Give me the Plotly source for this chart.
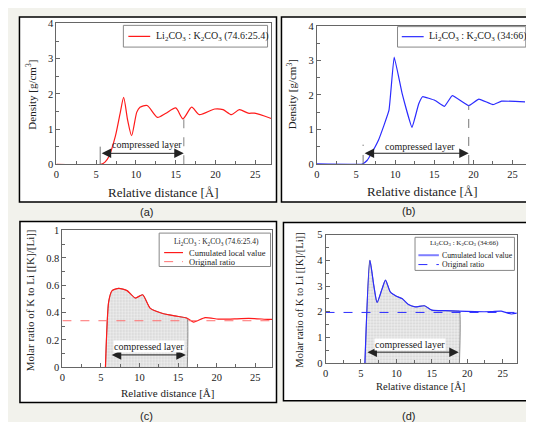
import numpy as np
import plotly.graph_objects as go

SERIF = "Liberation Serif"
SANS = "Liberation Sans"

# (a) density, Li2CO3 : K2CO3 (74.6:25.4)
a_x = [0, 5.6, 6.1, 6.6, 7.4, 8.0, 8.45, 8.95, 9.45, 10.1, 10.5, 11.4, 12.7, 13.7,
       15.0, 15.9, 17.0, 17.95, 19.9, 20.95, 22.0, 23.0, 24.1, 24.9, 27.0]
a_y = [0, 0, 0.06, 0.22, 0.79, 1.44, 1.9, 1.25, 0.81, 1.48, 1.62, 1.67, 1.33, 1.44,
       1.6, 1.29, 1.62, 1.41, 1.57, 1.55, 1.41, 1.55, 1.45, 1.45, 1.3]
a_layer = [5.5, 16.0]

# (b) density, Li2CO3 : K2CO3 (34:66)
b_x = [0, 5.8, 6.4, 6.9, 7.9, 9.2, 9.87, 10.9, 12.15, 13.0, 13.5, 15.1, 16.3, 17.3,
       19.4, 20.7, 22.5, 23.6, 26.6]
b_y = [0, 0, 0.1, 0.28, 0.71, 1.55, 3.1, 2.03, 1.06, 1.74, 1.95, 1.84, 1.67, 1.98,
       1.69, 1.88, 1.72, 1.82, 1.8]
b_layer = [5.9, 19.4]

# (c) molar ratio K/Li, 74.6:25.4
c_x = [5.58, 6.0, 6.44, 7.3, 8.38, 9.45, 10.4, 11.4, 12.9, 14.6, 16.1, 17.0, 18.5,
       20.2, 21.5, 23.2, 24.9, 26.6, 27.2]
c_y = [0, 0.48, 0.56, 0.577, 0.56, 0.506, 0.53, 0.43, 0.395, 0.375, 0.36, 0.33, 0.363,
       0.352, 0.352, 0.356, 0.356, 0.35, 0.35]
c_ratio = 0.34
c_layer = [6.2, 16.2]

# (d) molar ratio K/Li, 34:66
d_x = [5.56, 6.26, 6.82, 7.28, 7.98, 8.46, 9.16, 9.95, 10.8, 11.7, 12.66, 13.96, 15.0,
       16.9, 18.7, 21.1, 23.4, 24.8, 26.2, 27.0]
d_y = [0, 4.0, 3.01, 2.36, 2.89, 3.23, 2.76, 2.61, 2.51, 2.28, 2.19, 2.23, 2.06,
       2.04, 2.02, 2.0, 2.0, 2.02, 1.91, 1.94]
d_ratio = 1.97
d_layer = [5.7, 18.9]

RED = "#ff1a1a"
BLUE = "#2b2bff"
LBL_A = "Li<sub>2</sub>CO<sub>3</sub> : K<sub>2</sub>CO<sub>3</sub> (74.6:25.4)"
LBL_B = "Li<sub>2</sub>CO<sub>3</sub> : K<sub>2</sub>CO<sub>3</sub> (34:66)"
X_TITLE = "Relative distance [Å]"
Y_DENS = "Density [g/cm<sup>3</sup>]"
Y_RATIO = "Molar ratio of K to Li [[K]/[Li]]"

W, H = 534, 422
TXT = "#222"


def px(x0, x1):
    return [x0 / W, x1 / W]


def py(y_top, y_bot):
    return [1 - y_bot / H, 1 - y_top / H]


fig = go.Figure()

# (a)
fig.add_trace(go.Scatter(x=a_x, y=a_y, mode="lines", name=LBL_A,
                         line=dict(color=RED, width=1.2, shape="spline", smoothing=0.7),
                         xaxis="x", yaxis="y"))
fig.add_trace(go.Scatter(x=[a_layer[0]] * 2, y=[0, 0.5], mode="lines",
                         line=dict(color="#777", width=1), xaxis="x", yaxis="y"))
fig.add_trace(go.Scatter(x=[a_layer[1]] * 2, y=[0, np.interp(a_layer[1], a_x, a_y)],
                         mode="lines", line=dict(color="#aaa", width=1.5, dash="dash"),
                         xaxis="x", yaxis="y"))

# (b)
fig.add_trace(go.Scatter(x=b_x, y=b_y, mode="lines", name=LBL_B,
                         line=dict(color=BLUE, width=1.2, shape="spline", smoothing=0.3),
                         xaxis="x2", yaxis="y2"))
fig.add_trace(go.Scatter(x=[b_layer[0]] * 2, y=[0, 0.56], mode="lines",
                         line=dict(color="#777", width=1, dash="dash"), xaxis="x2", yaxis="y2"))
fig.add_trace(go.Scatter(x=[b_layer[1]] * 2, y=[0, np.interp(b_layer[1], b_x, b_y)],
                         mode="lines", line=dict(color="#777", width=1, dash="dash"),
                         xaxis="x2", yaxis="y2"))


def shaded(xs, ys, end, xa, ya):
    sx = [x for x in xs if x < end] + [end, end]
    sy = [y for x, y in zip(xs, ys) if x < end] + [float(np.interp(end, xs, ys)), 0]
    return go.Scatter(x=sx, y=sy, mode="lines", fill="tozeroy",
                      line=dict(color="#888", width=1, shape="spline", smoothing=0.6),
                      fillcolor="#e6e6e6",
                      fillpattern=dict(shape=".", fgcolor="#b0b0b0", bgcolor="#ececec",
                                       size=3, solidity=0.3),
                      xaxis=xa, yaxis=ya, hoverinfo="skip")


# (c)
fig.add_trace(shaded(c_x, c_y, c_layer[1], "x3", "y3"))
fig.add_trace(go.Scatter(x=c_x, y=c_y, mode="lines", name="Cumulated local value",
                         line=dict(color=RED, width=1.2, shape="spline", smoothing=0.6),
                         xaxis="x3", yaxis="y3"))
fig.add_trace(go.Scatter(x=[0, 27.2], y=[c_ratio] * 2, mode="lines", name="Original ratio",
                         line=dict(color="#ff7070", width=1, dash="dash"),
                         xaxis="x3", yaxis="y3"))

# (d)
fig.add_trace(shaded(d_x, d_y, d_layer[1], "x4", "y4"))
fig.add_trace(go.Scatter(x=d_x, y=d_y, mode="lines", name="Cumulated local value",
                         line=dict(color=BLUE, width=1.2, shape="spline", smoothing=0.6),
                         xaxis="x4", yaxis="y4"))
fig.add_trace(go.Scatter(x=[0, 27], y=[d_ratio] * 2, mode="lines", name="Original ratio",
                         line=dict(color=BLUE, width=1, dash="dash"),
                         xaxis="x4", yaxis="y4"))


def xax(dom, rng, anchor, tsize):
    return dict(domain=dom, range=rng, anchor=anchor, showgrid=False, zeroline=False,
                showline=True, linecolor="#666", linewidth=1, mirror=True,
                ticks="inside", ticklen=4, tickcolor="#666", dtick=5, tick0=0,
                minor=dict(ticks="inside", ticklen=3, dtick=2.5, tickcolor="#666"),
                tickfont=dict(family=SERIF, size=tsize, color=TXT))


def yax(dom, rng, anchor, dt, mdt, tsize):
    return dict(domain=dom, range=rng, anchor=anchor, showgrid=False, zeroline=False,
                showline=True, linecolor="#666", linewidth=1, mirror=True,
                ticks="inside", ticklen=4, tickcolor="#666", dtick=dt, tick0=0,
                minor=dict(ticks="inside", ticklen=3, dtick=mdt, tickcolor="#666"),
                tickfont=dict(family=SERIF, size=tsize, color=TXT))


def arrow(xa, ya, x0, x1, y):
    return dict(x=x1, y=y, ax=x0, ay=y, xref=xa, yref=ya, axref=xa, ayref=ya,
                text="", showarrow=True, arrowside="end+start", arrowhead=2,
                arrowsize=1.9, arrowwidth=1, arrowcolor="#222")


def label(xa, ya, x, y, bg=None):
    return dict(x=x, y=y, xref=xa, yref=ya, text="compressed layer", showarrow=False,
                bgcolor=bg, borderpad=0, font=dict(family=SERIF, size=10, color=TXT))


def ptxt(x, y, t, size, anchor="left", angle=0, family=SERIF):
    return dict(x=x / W, y=1 - y / H, xref="paper", yref="paper", text=t, showarrow=False,
                xanchor=anchor, yanchor="middle", textangle=angle, borderpad=0,
                font=dict(family=family, size=size, color=TXT))


def prect(l, t, r, b, color, width, fill):
    return dict(type="rect", xref="paper", yref="paper", x0=l / W, x1=r / W,
                y0=1 - b / H, y1=1 - t / H, line=dict(color=color, width=width),
                fillcolor=fill, layer="below")


def pline(x0, x1, y, color, dash="solid", width=1.2):
    return dict(type="line", xref="paper", yref="paper", x0=x0 / W, x1=x1 / W,
                y0=1 - y / H, y1=1 - y / H, line=dict(color=color, width=width, dash=dash))


frames = [(8.5, 4, 267, 194), (272, 4, 527.5, 194), (9, 214, 267, 400), (274, 215, 524, 398)]
shapes = [prect(l, t, r, b, "black", 1.5, "white") for l, t, r, b in frames]

# legend boxes drawn by hand
shapes += [
    dict(prect(113, 12.7, 258, 35, "#888", 1, "white"), layer="above"),
    pline(118, 140, 24, RED),
    dict(prect(388.7, 14, 517.7, 35, "#888", 1, "white"), layer="above"),
    pline(393, 415, 24.3, BLUE),
    dict(prect(149, 226, 261, 260.3, "#888", 1, "white"), layer="above"),
    pline(154, 173, 246, RED),
    pline(154, 173, 255.3, "#ff7070", "dash", 1),
    dict(prect(406.3, 230.3, 506.3, 264.3, "#888", 1, "white"), layer="above"),
    pline(409.7, 430.3, 248.7, "#7f7fff", "solid", 2),
    pline(409.7, 430.3, 258.3, BLUE, "dash", 1),
]

fig.update_layout(
    width=W, height=H, margin=dict(l=0, r=0, t=0, b=0), showlegend=False,
    paper_bgcolor="#f2f2ec", plot_bgcolor="rgba(0,0,0,0)",
    xaxis=xax(px(45.7, 261.7), [0, 27], "y", 10.5),
    yaxis=yax(py(10.7, 155.3), [0, 4], "x", 1, 0.5, 10.5),
    xaxis2=xax(px(307.7, 519.3), [0, 26.9], "y2", 10.5),
    yaxis2=yax(py(13.3, 155), [0, 4], "x2", 1, 0.5, 10.5),
    xaxis3=xax(px(51.7, 262.7), [0, 27.2], "y3", 10.5),
    yaxis3=yax(py(223.3, 363.7), [0, 1], "x3", 0.2, 0.1, 10.5),
    xaxis4=xax(px(316.3, 508.7), [0, 27], "y4", 10.5),
    yaxis4=yax(py(227.7, 359.3), [0, 5], "x4", 1, 0.5, 10.5),
    shapes=shapes,
    annotations=[
        arrow("x", "y", a_layer[0], a_layer[1], 0.31), label("x", "y", 11.4, 0.56),
        arrow("x2", "y2", b_layer[0], b_layer[1], 0.31), label("x2", "y2", 13.2, 0.5),
        arrow("x3", "y3", c_layer[0], c_layer[1] - 0.2, 0.09), label("x3", "y3", 11.2, 0.15, "white"),
        arrow("x4", "y4", d_layer[0], d_layer[1] - 0.1, 0.42), label("x4", "y4", 11.9, 0.71, "white"),
        # axis titles
        ptxt(152.5, 184, X_TITLE, 13, "center"),
        ptxt(413, 183, X_TITLE, 13, "center"),
        ptxt(157, 390, X_TITLE, 11, "center"),
        ptxt(412, 384, X_TITLE, 10.5, "center"),
        ptxt(20, 84, Y_DENS, 11, "center", -90),
        ptxt(282, 83, Y_DENS, 11, "center", -90),
        ptxt(18.5, 294.5, Y_RATIO, 11, "center", -90),
        ptxt(290.5, 294.5, Y_RATIO, 10.5, "center", -90),
        # legends
        ptxt(145, 24, LBL_A, 10), ptxt(419.7, 24.3, LBL_B, 10),
        ptxt(207, 235, LBL_A, 7.5, "center"),
        ptxt(178.3, 246, "Cumulated local value", 8.5), ptxt(178.3, 255.3, "Original ratio", 8.5),
        ptxt(456, 236, LBL_B, 7, "center"),
        ptxt(432.7, 248.7, "Cumulated local value", 7.8), ptxt(432.7, 258.3, "Original ratio", 7.8),
        # panel tags
        ptxt(136, 204, "(a)", 11, "center", family=SANS), ptxt(400, 203, "(b)", 11, "center", family=SANS),
        ptxt(136, 414, "(c)", 11, "center", family=SANS), ptxt(400, 414, "(d)", 11, "center", family=SANS),
    ],
)

fig.write_html("out.html")
